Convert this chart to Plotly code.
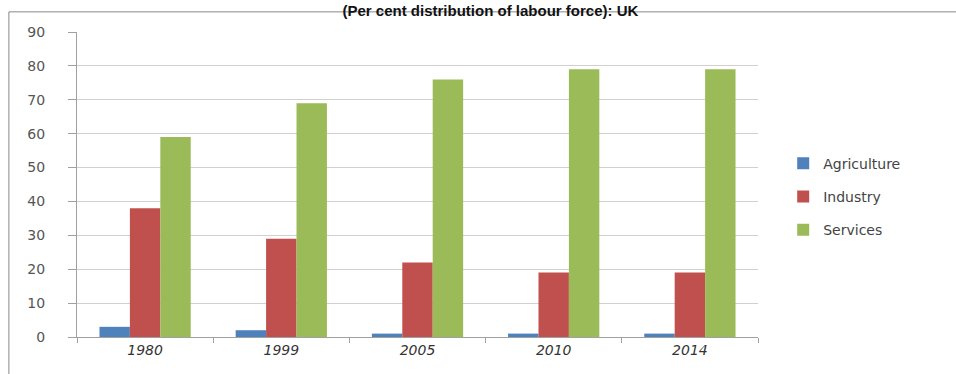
import plotly.graph_objects as go

years = ["1980", "1999", "2005", "2010", "2014"]
agriculture = [3, 2, 1, 1, 1]
industry = [38, 29, 22, 19, 19]
services = [59, 69, 76, 79, 79]

colors = {"Agriculture": "#4F81BD", "Industry": "#C0504D", "Services": "#9BBB59"}

fig = go.Figure()
for name, vals in [("Agriculture", agriculture), ("Industry", industry), ("Services", services)]:
    fig.add_trace(go.Bar(x=years, y=vals, name=name, marker_color=colors[name],
                         marker_line_width=0, legendgroup=name))

fig.update_layout(
    width=956, height=374,
    margin=dict(l=77, r=198, t=32, b=37),
    paper_bgcolor="white", plot_bgcolor="white",
    barmode="group", bargap=0.33, bargroupgap=0,
    title=dict(text="<b>(Per cent distribution of labour force): UK</b>",
               x=0.513, xanchor="center", y=0.985, yanchor="top", yref="container",
               pad=dict(t=0, b=0),
               font=dict(family="Liberation Sans, Arial", size=15, color="#111")),
    font=dict(family="DejaVu Sans, Verdana", size=14, color="#555"),
    legend=dict(x=1.037, y=0.46, xanchor="left", yanchor="middle",
                font=dict(family="DejaVu Sans, Verdana", size=14, color="#444"),
                itemwidth=30, tracegroupgap=12, bgcolor="rgba(0,0,0,0)"),
    showlegend=True,
)
fig.update_yaxes(range=[0, 90], dtick=10, showgrid=True, gridcolor="#D0D0D0", gridwidth=1,
                 showline=True, linecolor="#A0A0A0", linewidth=1,
                 ticks="outside", ticklen=8, tickcolor="#A0A0A0", ticklabelstandoff=20,
                 tickfont=dict(size=14, color="#555"), zeroline=False)
fig.update_xaxes(showline=True, linecolor="#A0A0A0", linewidth=1,
                 ticks="outside", ticklen=5, tickcolor="#A0A0A0", tickson="boundaries",
                 tickfont=dict(size=14, color="#333", style="italic"))

# outer chart border
fig.add_shape(type="line", xref="paper", yref="paper", x0=-0.1, x1=-0.1, y0=-0.2, y1=1.066,
              line=dict(color="#888", width=1))
fig.add_shape(type="line", xref="paper", yref="paper", x0=-0.1, x1=1.3, y0=1.066, y1=1.066,
              line=dict(color="#888", width=1))

fig.write_html("out.html")
